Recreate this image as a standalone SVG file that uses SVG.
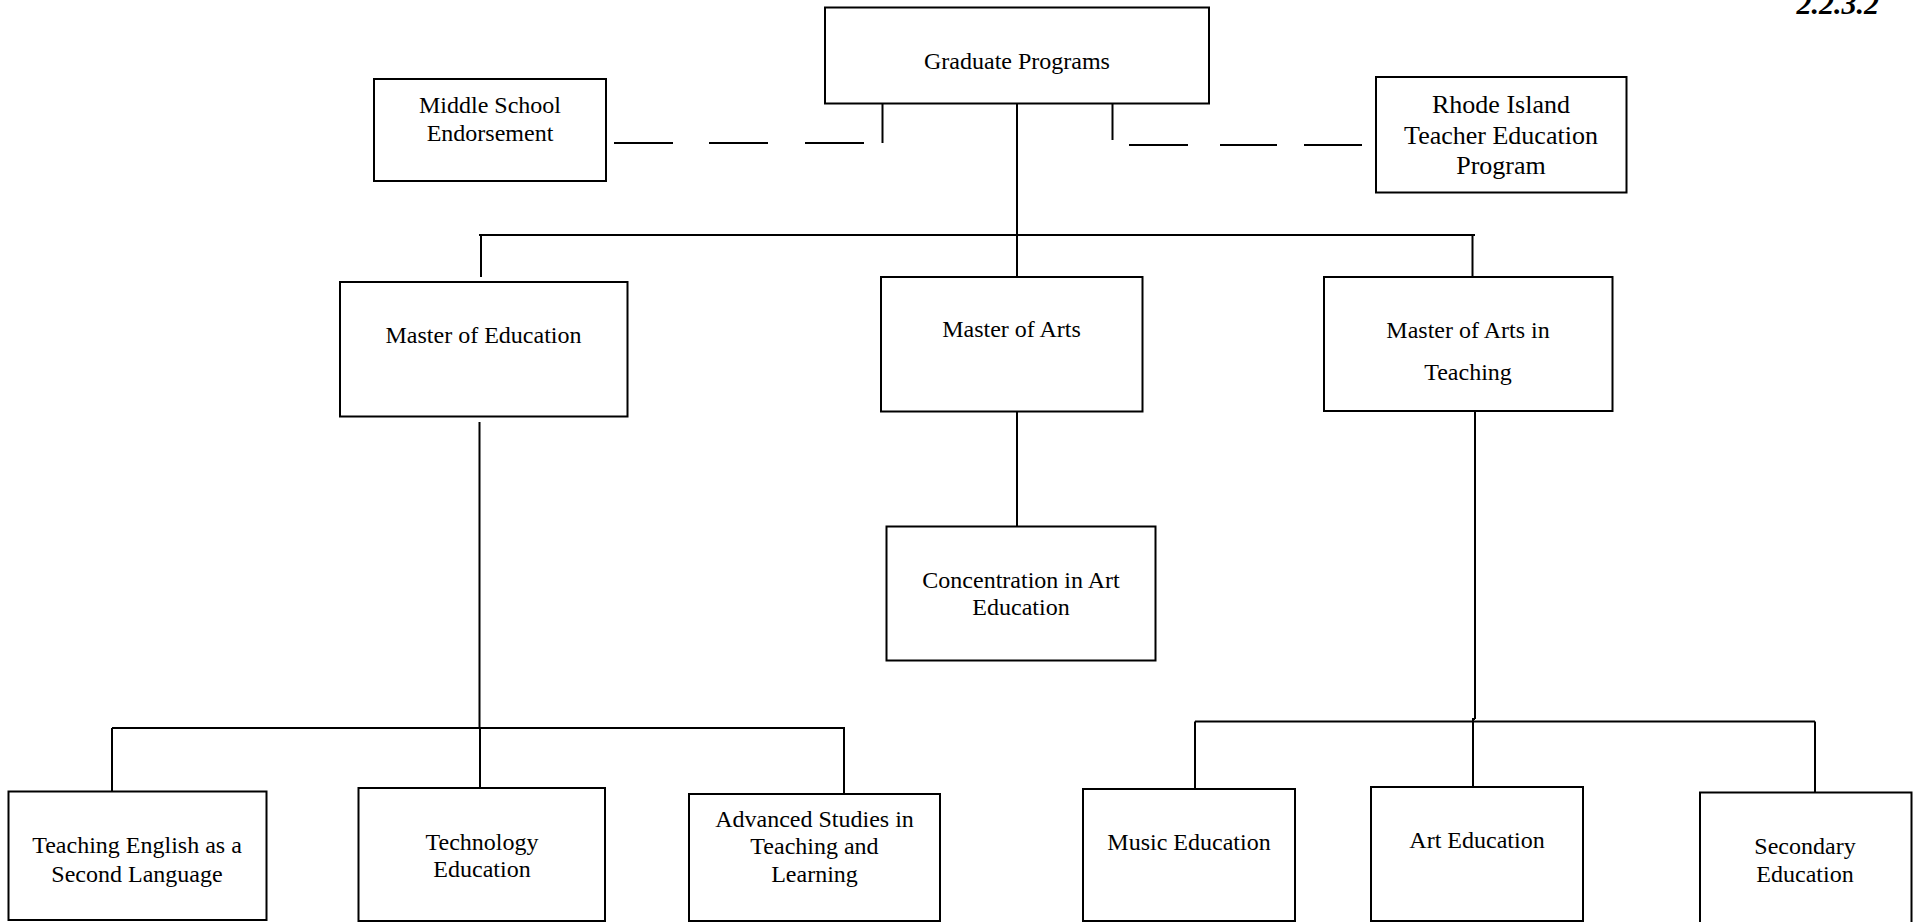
<svg xmlns="http://www.w3.org/2000/svg" width="1913" height="922" viewBox="0 0 1913 922">
  <style>
    .box { fill: #ffffff; stroke: #000000; stroke-width: 2; }
    .ln { stroke: #000000; stroke-width: 2; fill: none; }
    .lbl { font-family: "Liberation Serif", "Times New Roman", serif; font-size: 24px; fill: #000000; text-anchor: middle; }
    .big { font-size: 26px; }
    .tag { font-family: "Liberation Serif", "Times New Roman", serif; font-size: 30px; font-weight: bold; font-style: italic; fill: #000000; text-anchor: end; }
  </style>
  <rect width="1913" height="922" fill="#ffffff"/>

  <text class="tag" x="1879" y="14">2.2.3.2</text>

  <!-- connectors -->
  <g id="connectors">
    <!-- trunk from Graduate Programs -->
    <line class="ln" x1="1017" y1="103" x2="1017" y2="277"/>
    <line class="ln" x1="479" y1="235" x2="1475" y2="235"/>
    <line class="ln" x1="481" y1="235" x2="481" y2="277"/>
    <line class="ln" x1="1472.5" y1="235" x2="1472.5" y2="277"/>
    <!-- dashed link to Middle School Endorsement -->
    <line class="ln" x1="882.5" y1="103" x2="882.5" y2="143"/>
    <line class="ln" x1="614" y1="143" x2="673" y2="143"/>
    <line class="ln" x1="709" y1="143" x2="768" y2="143"/>
    <line class="ln" x1="805" y1="143" x2="864" y2="143"/>
    <!-- dashed link to Rhode Island Teacher Education Program -->
    <line class="ln" x1="1112.5" y1="103" x2="1112.5" y2="140"/>
    <line class="ln" x1="1129" y1="145" x2="1188" y2="145"/>
    <line class="ln" x1="1220" y1="145" x2="1277" y2="145"/>
    <line class="ln" x1="1304" y1="145" x2="1362" y2="145"/>
    <!-- Master of Arts to concentration -->
    <line class="ln" x1="1017" y1="411" x2="1017" y2="527"/>
    <!-- Master of Education branch -->
    <line class="ln" x1="479.5" y1="422" x2="479.5" y2="728"/>
    <line class="ln" x1="112" y1="728" x2="845" y2="728"/>
    <line class="ln" x1="112" y1="728" x2="112" y2="791"/>
    <line class="ln" x1="480" y1="728" x2="480" y2="788"/>
    <line class="ln" x1="844" y1="728" x2="844" y2="794"/>
    <!-- Master of Arts in Teaching branch -->
    <line class="ln" x1="1475" y1="411" x2="1475" y2="719"/>
    <line class="ln" x1="1475" y1="719" x2="1473" y2="719"/>
    <line class="ln" x1="1195" y1="721.5" x2="1815" y2="721.5"/>
    <line class="ln" x1="1195" y1="721.5" x2="1195" y2="789"/>
    <line class="ln" x1="1473" y1="718" x2="1473" y2="787"/>
    <line class="ln" x1="1815" y1="721.5" x2="1815" y2="792.5"/>
  </g>

  <g id="graduate-programs">
    <rect class="box" x="825" y="7.5" width="384" height="96"/>
    <text class="lbl" x="1017" y="69">Graduate Programs</text>
  </g>

  <g id="middle-school">
    <rect class="box" x="374" y="79" width="232" height="102"/>
    <text class="lbl" x="490" y="113">Middle School</text>
    <text class="lbl" x="490" y="141">Endorsement</text>
  </g>

  <g id="ri-teacher-ed">
    <rect class="box" x="1376" y="77" width="250.5" height="115.5"/>
    <text class="lbl big" x="1501" y="112.5">Rhode Island</text>
    <text class="lbl big" x="1501" y="143.5">Teacher Education</text>
    <text class="lbl big" x="1501" y="174">Program</text>
  </g>

  <g id="master-education">
    <rect class="box" x="340" y="282" width="287.5" height="134.5"/>
    <text class="lbl" x="483.5" y="343">Master of Education</text>
  </g>

  <g id="master-arts">
    <rect class="box" x="881" y="277" width="261.5" height="134.5"/>
    <text class="lbl" x="1011.5" y="337">Master of Arts</text>
  </g>

  <g id="master-arts-teaching">
    <rect class="box" x="1324" y="277" width="288.5" height="134"/>
    <text class="lbl" x="1468" y="338">Master of Arts in</text>
    <text class="lbl" x="1468" y="380">Teaching</text>
  </g>

  <g id="art-concentration">
    <rect class="box" x="886.5" y="526.5" width="269" height="134"/>
    <text class="lbl" x="1021" y="588">Concentration in Art</text>
    <text class="lbl" x="1021" y="615">Education</text>
  </g>

  <g id="tesl">
    <rect class="box" x="8.5" y="791.5" width="258" height="128.5"/>
    <text class="lbl" x="137" y="853">Teaching English as a</text>
    <text class="lbl" x="137" y="882">Second Language</text>
  </g>

  <g id="technology">
    <rect class="box" x="358.5" y="788" width="246.5" height="133"/>
    <text class="lbl" x="482" y="850">Technology</text>
    <text class="lbl" x="482" y="877">Education</text>
  </g>

  <g id="advanced-studies">
    <rect class="box" x="689" y="794" width="251" height="127"/>
    <text class="lbl" x="814.5" y="826.5">Advanced Studies in</text>
    <text class="lbl" x="814.5" y="854">Teaching and</text>
    <text class="lbl" x="814.5" y="882">Learning</text>
  </g>

  <g id="music">
    <rect class="box" x="1083" y="789" width="212" height="132"/>
    <text class="lbl" x="1189" y="850">Music Education</text>
  </g>

  <g id="art">
    <rect class="box" x="1371" y="787" width="212" height="134"/>
    <text class="lbl" x="1477" y="848">Art Education</text>
  </g>

  <g id="secondary">
    <rect class="box" x="1700" y="792.5" width="211.5" height="131"/>
    <text class="lbl" x="1805" y="853.5">Secondary</text>
    <text class="lbl" x="1805" y="881.5">Education</text>
  </g>
</svg>
